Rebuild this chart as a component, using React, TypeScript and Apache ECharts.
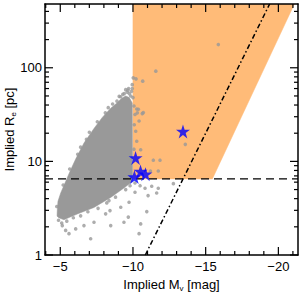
import React, { useEffect, useRef } from "react";
import * as echarts from "echarts";

const FONT = "'Liberation Sans', Arial, Helvetica, sans-serif";

// axis ranges and ticks
const xRange = [-21.35, -3.95];
const yRange = [1, 480];
const xMajorTicks = [-5, -10, -15, -20];
const xMinorTicks = [-4, -6, -7, -8, -9, -11, -12, -13, -14, -16, -17, -18, -19, -21];
const yMajorTicks = [1, 10, 100];
const yMinorTicks = [2, 3, 4, 5, 6, 7, 8, 9, 20, 30, 40, 50, 60, 70, 80, 90, 200, 300, 400];

// shaded selection region [Mv, Re]
const orangeRegion = [
  [-10, 480],
  [-10, 6.5],
  [-15.46, 6.5],
  [-21.1, 480],
];
const sizeLimit = 6.5;
const dashDotLine = [
  [-10.85, 1],
  [-19.4, 480],
];

// dense core of the gray cloud [Mv, Re]
const cloudCore = [
  [-4.78, 2.6], [-4.79, 2.92], [-4.84, 3.74], [-5.03, 4.6], [-5.37, 6.1], [-5.72, 8.15],
  [-6.06, 10.6], [-6.63, 15.7], [-7.32, 22.5], [-7.89, 29.5], [-8.47, 37], [-8.9, 42],
  [-9.2, 47], [-9.5, 50], [-9.75, 48], [-9.95, 42], [-9.97, 6.2],
  [-9.89, 6.0], [-9.38, 5.2], [-8.47, 4.12], [-7.32, 3.22], [-6.17, 2.74], [-5.25, 2.38], [-4.9, 2.5],
];

// individual gray points [Mv, Re]
const grayPoints = [
  // protrusions along the upper-left edge
  [-4.76, 3.3], [-5.2, 5.6], [-5.65, 8.3], [-6.2, 11.9], [-6.8, 17.2], [-7.55, 26.5], [-8.1, 33],
  [-8.6, 41], [-8.9, 44], [-9.05, 49.5], [-9.3, 52], [-9.5, 58.4], [-9.7, 60], [-9.95, 66],
  [-10.02, 78], [-7.0, 20.5], [-8.3, 37.5], [-6.4, 14.2],
  // ragged top of the cloud
  [-9.4, 53], [-9.6, 55], [-9.75, 53], [-9.85, 50], [-9.9, 56], [-9.95, 60], [-9.15, 49],
  [-9.65, 57.5], [-10.0, 48],
  // protrusions along the lower edge
  [-4.88, 2.35], [-5.1, 2.2], [-5.45, 2.3], [-5.9, 2.5], [-6.4, 2.62], [-6.9, 2.9], [-7.6, 3.15],
  [-8.2, 3.6], [-8.8, 4.15], [-9.5, 5.0], [-9.8, 5.5],
  // outliers below the cloud
  [-7.09, 1.49], [-5.6, 1.69], [-6.06, 1.9], [-8.47, 2.06], [-9.38, 2.24], [-10.53, 2.15],
  [-10.42, 1.69], [-8.12, 2.75], [-9.16, 3.24], [-9.73, 3.66], [-8.35, 3.81], [-7.32, 2.24],
  [-6.63, 2.06], [-5.37, 1.83], [-5.14, 2.06], [-9.68, 2.54], [-10.95, 2.91], [-8.42, 2.98],
  // beyond -10, below the size limit
  [-10.14, 5.88], [-10.49, 5.5], [-10.83, 5.16], [-11.29, 5.42], [-11.74, 5.16], [-10.14, 4.68],
  [-11.04, 4.31], [-12.78, 5.78], [-11.63, 4.6],
  // inside the shaded region
  [-10.26, 36.3], [-10.64, 32.4], [-10.14, 31.7], [-10.09, 24.6], [-13.6, 15.2], [-11.4, 10.3],
  [-11.86, 10.3], [-11.74, 7.9], [-11.2, 7.9], [-15.87, 177], [-11.57, 92], [-10.67, 72],
  [-10.21, 76], [-10.37, 36], [-10.71, 33.2], [-10.07, 39], [-10.3, 33], [-10.42, 27],
  [-10.19, 21], [-10.26, 16.4], [-10.53, 13.3], [-10.07, 13.5],
];

// blue stars [Mv, Re]
const stars = [
  [-13.44, 20.9],
  [-10.18, 10.9],
  [-10.52, 7.82],
  [-10.86, 7.3],
  [-10.1, 6.81],
];

const STAR =
  "path://M50,0 L61.2,34.5 L97.6,34.5 L68.2,55.9 L79.4,90.5 L50,69.1 L20.6,90.5 L31.8,55.9 L2.4,34.5 L38.8,34.5 Z";

function polygonSeries(points: number[][], color: string, z: number) {
  return {
    type: "custom",
    coordinateSystem: "cartesian2d",
    data: [points[0]],
    clip: true,
    silent: true,
    z,
    renderItem: (_params: any, api: any) => ({
      type: "polygon",
      shape: { points: points.map((p) => api.coord(p)) },
      style: { fill: color, stroke: color, lineWidth: 0.5 },
    }),
  };
}

export default function App() {
  const ref = useRef<HTMLDivElement>(null);

  useEffect(() => {
    if (!ref.current) return;
    const chart = echarts.init(ref.current, null, { renderer: "svg" });

    const tickStyle = { stroke: "#000", lineWidth: 1.2 };
    const MAJOR = 8;
    const MINOR = 4;

    const yTickData = [
      ...yMajorTicks.map((v) => [-10, v, 1]),
      ...yMinorTicks.map((v) => [-10, v, 0]),
    ];
    const xTickData = [
      ...xMajorTicks.map((v) => [v, 10, 1]),
      ...xMinorTicks.map((v) => [v, 10, 0]),
    ];

    const nameRich = {
      a: { fontSize: 13, fontFamily: FONT, color: "#000", lineHeight: 16 },
      s: { fontSize: 8, fontFamily: FONT, color: "#000", lineHeight: 8, verticalAlign: "bottom" },
    };

    const option: any = {
      animation: false,
      backgroundColor: "#fff",
      grid: {
        left: 45,
        right: 2,
        top: 4,
        bottom: 39,
        containLabel: false,
        outerBoundsMode: "none",
      },
      xAxis: [
        {
          type: "value",
          min: xRange[0],
          max: xRange[1],
          inverse: true,
          position: "bottom",
          z: 10,
          axisLine: { show: true, onZero: false, lineStyle: { color: "#000", width: 1.5 } },
          axisTick: { show: false },
          splitLine: { show: false },
          axisLabel: {
            customValues: xMajorTicks,
            formatter: (v: number) => String(v).replace("-", "\u2212"),
            color: "#000",
            fontSize: 13,
            fontFamily: FONT,
            margin: 5,
          },
          name: "{a|Implied M}{s|v}{a| [mag]}",
          nameLocation: "middle",
          nameGap: 21,
          nameMoveOverlap: false,
          nameTextStyle: { rich: nameRich },
        },
        {
          type: "value",
          min: xRange[0],
          max: xRange[1],
          inverse: true,
          position: "top",
          z: 10,
          axisLine: { show: true, onZero: false, lineStyle: { color: "#000", width: 1.5 } },
          axisTick: { show: false },
          axisLabel: { show: false },
          splitLine: { show: false },
        },
      ],
      yAxis: [
        {
          type: "log",
          logBase: 10,
          min: yRange[0],
          max: yRange[1],
          position: "left",
          z: 10,
          axisLine: { show: true, onZero: false, lineStyle: { color: "#000", width: 1.5 } },
          axisTick: { show: false },
          splitLine: { show: false },
          minorSplitLine: { show: false },
          axisLabel: {
            showMaxLabel: false,
            formatter: (v: number) => {
              const r = Math.round(v);
              return yMajorTicks.indexOf(r) >= 0 ? String(r) : "";
            },
            color: "#000",
            fontSize: 13,
            fontFamily: FONT,
            margin: 3,
          },
          name: "{a|Implied R}{s|e}{a| [pc]}",
          nameLocation: "middle",
          nameGap: 28,
          nameMoveOverlap: false,
          nameTextStyle: { rich: nameRich },
        },
        {
          type: "log",
          logBase: 10,
          min: yRange[0],
          max: yRange[1],
          position: "right",
          z: 10,
          axisLine: { show: true, onZero: false, lineStyle: { color: "#000", width: 1.5 } },
          axisTick: { show: false },
          axisLabel: { show: false },
          splitLine: { show: false },
        },
      ],
      series: [
        polygonSeries(orangeRegion, "#FFBB78", 1),
        polygonSeries(cloudCore, "#999999", 2),
        {
          type: "scatter",
          data: grayPoints,
          symbol: "circle",
          symbolSize: 3.6,
          itemStyle: { color: "#999999" },
          silent: true,
          z: 3,
        },
        {
          type: "line",
          data: [
            [xRange[1], sizeLimit],
            [xRange[0], sizeLimit],
          ],
          showSymbol: false,
          symbol: "none",
          silent: true,
          lineStyle: { color: "#000", width: 1.3, type: [8, 5] },
          z: 4,
        },
        {
          type: "line",
          data: dashDotLine,
          showSymbol: false,
          symbol: "none",
          silent: true,
          clip: true,
          lineStyle: { color: "#000", width: 1.5, type: [5, 2.5, 1.5, 2.5] },
          z: 4,
        },
        {
          type: "scatter",
          data: stars,
          symbol: STAR,
          symbolSize: 14,
          itemStyle: { color: "#0000FF" },
          silent: true,
          z: 5,
        },
        {
          type: "custom",
          data: yTickData,
          silent: true,
          z: 10,
          renderItem: (params: any, api: any) => {
            const cs = params.coordSys;
            const y = api.coord([-10, api.value(1)])[1];
            const len = api.value(2) ? MAJOR : MINOR;
            return {
              type: "group",
              children: [
                { type: "line", shape: { x1: cs.x, y1: y, x2: cs.x + len, y2: y }, style: tickStyle },
                {
                  type: "line",
                  shape: { x1: cs.x + cs.width - len, y1: y, x2: cs.x + cs.width, y2: y },
                  style: tickStyle,
                },
              ],
            };
          },
        },
        {
          type: "custom",
          data: xTickData,
          silent: true,
          z: 10,
          renderItem: (params: any, api: any) => {
            const cs = params.coordSys;
            const x = api.coord([api.value(0), 10])[0];
            const len = api.value(2) ? MAJOR : MINOR;
            const yb = cs.y + cs.height;
            return {
              type: "group",
              children: [
                { type: "line", shape: { x1: x, y1: yb, x2: x, y2: yb - len }, style: tickStyle },
                { type: "line", shape: { x1: x, y1: cs.y, x2: x, y2: cs.y + len }, style: tickStyle },
              ],
            };
          },
        },
      ],
    };

    chart.setOption(option);
    return () => chart.dispose();
  }, []);

  return (
    <div
      ref={ref}
      style={{ position: "fixed", left: 0, top: 0, width: 300, height: 294, background: "#fff" }}
    />
  );
}
